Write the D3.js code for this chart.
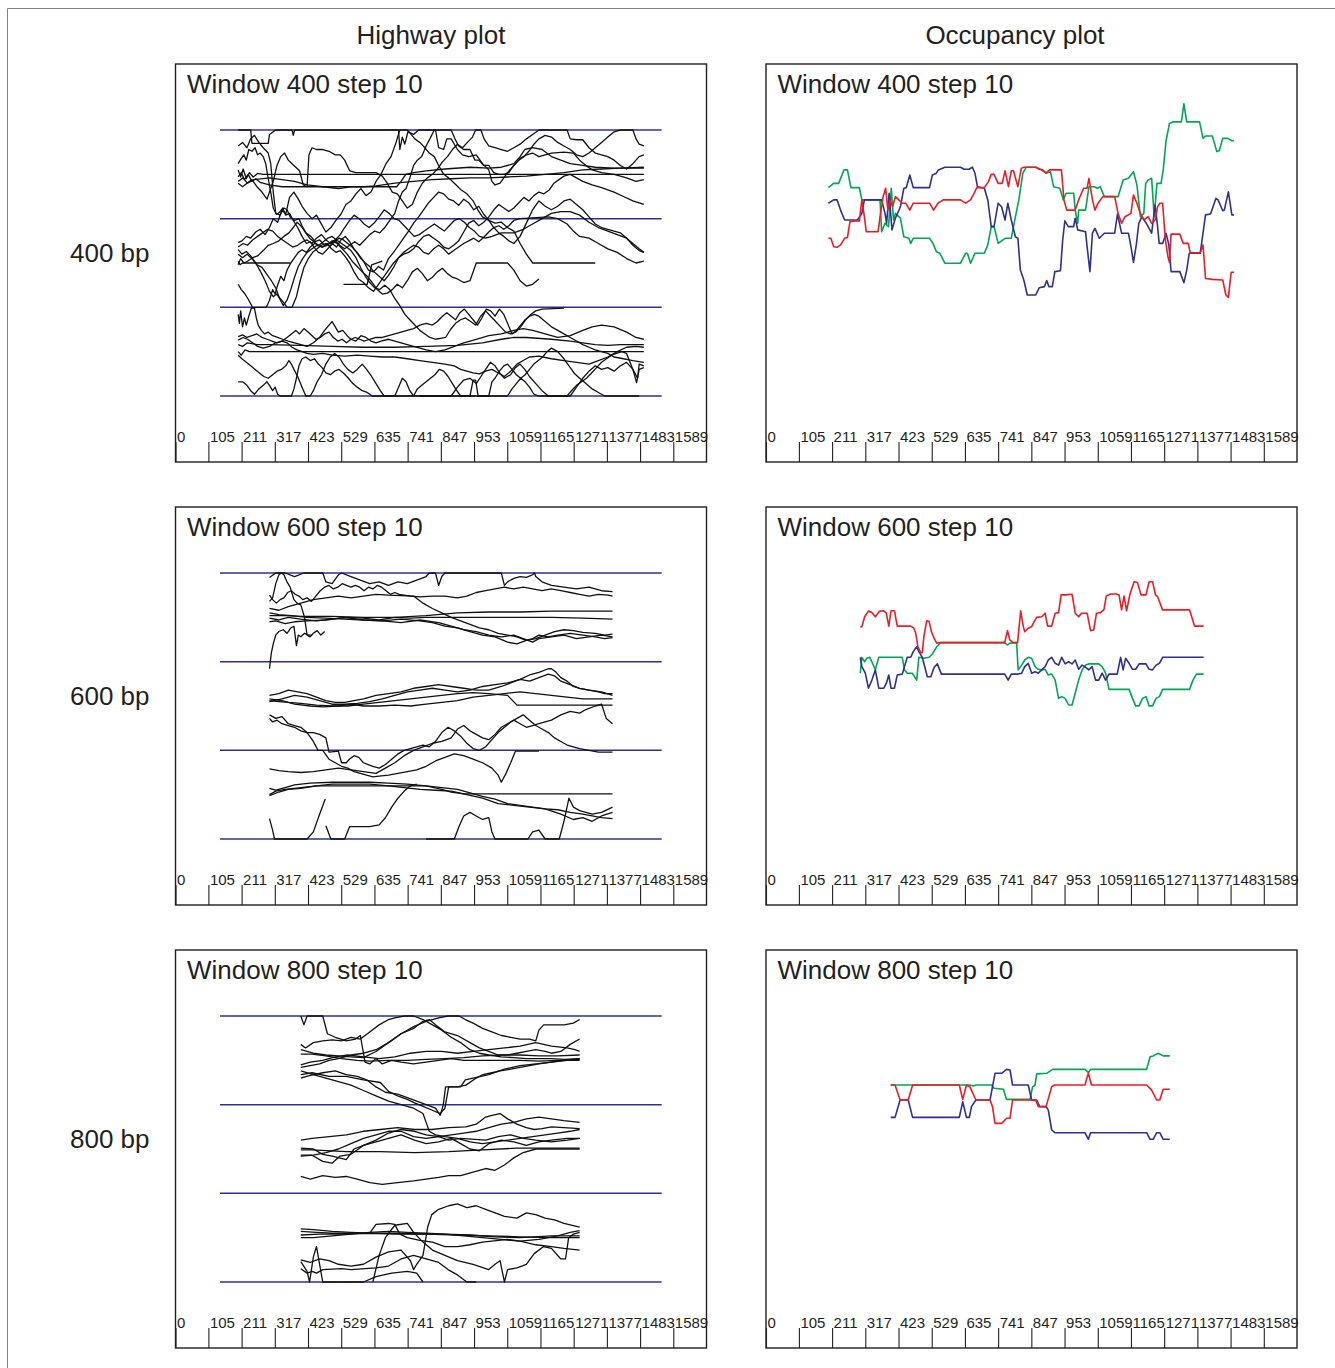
<!DOCTYPE html>
<html>
<head>
<meta charset="utf-8">
<script src="https://cdn.jsdelivr.net/npm/d3@7"></script>
<style>
  body { margin: 0; background: #fff; }
  text { font-family: "Liberation Sans", Arial, Helvetica, sans-serif; fill: #231f20; }
</style>
</head>
<body>
<svg id="chart" width="1335" height="1368"></svg>
<script>
// ---- data -------------------------------------------------------------
var columnTitles = ["Highway plot", "Occupancy plot"]
var rowLabels = ["400 bp", "600 bp", "800 bp"]
var panelTitles = ["Window 400 step 10", "Window 600 step 10", "Window 800 step 10"]
var seqLength = 1695
var tickLabels = [0, 105, 211, 317, 423, 529, 635, 741, 847, 953, 1059, 1165, 1271, 1377, 1483, 1589]
var laneLevels = [0, 1, 2, 3]
var laneSpan = [142, 1552]

// highway plot trajectories, [position bp, lane value]
var hw400 = [
  [[200,2.55],[208,2.47],[216,2.56],[226,2.45],[236,2.52],[248,2.47],[262,2.51],[280,2.5],[1495,2.5]],
  [[200,2.47],[210,2.52],[220,2.44],[232,2.5],[244,2.42],[256,2.45],[270,2.41],[300,2.38],[340,2.36],[706,2.36],[720,2.42],[735,2.5],[760,2.52],[800,2.54],[860,2.56],[940,2.58],[1000,2.57],[1040,2.58],[1080,2.62],[1100,2.7],[1115,2.78],[1140,2.8],[1170,2.78],[1200,2.7],[1230,2.66],[1260,2.62],[1300,2.6],[1340,2.58],[1400,2.57],[1495,2.57]],
  [[200,2.42],[215,2.46],[230,2.4],[250,2.44],[300,2.46],[340,2.44],[380,2.42],[420,2.38],[470,2.36],[520,2.34],[560,2.36],[600,2.36],[640,2.37],[700,2.4],[760,2.42],[820,2.44],[880,2.45],[940,2.46],[1000,2.46],[1060,2.47],[1120,2.48],[1180,2.5],[1240,2.52],[1300,2.55],[1360,2.56],[1420,2.57],[1495,2.58]],
  [[200,2.62],[210,2.68],[218,2.72],[226,2.66],[234,2.78],[244,2.76],[254,2.8],[262,2.72],[270,2.74],[280,2.7],[288,2.62],[296,2.45],[304,2.3],[312,2.12],[322,2.05],[332,2.07],[342,2.12],[352,2.04],[364,2.06],[376,1.98],[390,1.9],[404,1.8],[418,1.72],[430,1.74],[442,1.68],[456,1.62],[470,1.6],[486,1.66],[500,1.72],[514,1.68],[528,1.76],[542,1.8],[556,1.74],[570,1.66],[584,1.6],[600,1.52],[616,1.42],[632,1.4],[648,1.46],[664,1.42],[680,1.55],[696,1.62],[712,1.7],[728,1.78],[744,1.86],[760,1.95],[776,2.02],[792,2.1],[808,2.18],[824,2.24],[840,2.3],[856,2.28],[872,2.22],[888,2.2],[904,2.15],[920,2.22],[936,2.18],[952,2.1],[968,2.14],[984,2.05],[1000,1.98],[1016,1.9],[1032,1.84],[1048,1.8],[1064,1.75],[1080,1.72],[1100,1.8],[1120,1.95],[1140,2.1],[1160,2.2],[1180,2.14],[1200,2.1],[1220,2.14],[1240,2.2],[1260,2.22],[1280,2.16],[1300,2.1],[1320,2.02],[1340,1.94],[1360,1.9],[1380,1.88],[1400,1.86],[1420,1.84],[1440,1.78],[1460,1.7],[1480,1.64],[1495,1.62]],
  [[200,3],[240,3],[244,2.85],[296,2.85],[300,2.95],[320,3],[372,3],[376,2.94],[380,3],[712,3],[716,2.78],[724,2.92],[732,2.84],[742,2.98],[760,2.95],[776,3],[830,3],[840,2.8],[856,2.78],[866,2.9],[880,2.9],[900,2.78],[916,2.72],[936,2.7],[960,2.72],[980,2.62],[1000,2.55],[1010,2.42],[1020,2.38],[1036,2.4],[1060,2.52],[1080,2.6],[1100,2.68],[1120,2.72],[1140,2.74],[1160,2.7],[1180,2.72],[1200,2.74],[1240,2.75],[1270,2.74],[1290,2.66],[1310,2.6],[1330,2.55],[1360,2.52],[1400,2.5],[1440,2.46],[1470,2.42],[1495,2.44]],
  [[200,1.73],[212,1.75],[226,1.8],[240,1.78],[256,1.85],[270,1.88],[286,1.82],[300,1.9],[312,2.0],[326,1.96],[340,2.1],[352,2.05],[364,2.24],[378,2.3],[392,2.22],[404,2.14],[420,2.06],[436,2.0],[450,2.04],[464,1.95],[480,1.85],[496,1.9],[512,1.98],[528,2.05],[544,2.16],[560,2.2],[576,2.28],[592,2.34],[608,2.26],[624,2.3],[640,2.42],[656,2.5],[672,2.62],[688,2.7],[704,2.86],[716,3],[740,3],[752,2.95],[764,2.9],[780,2.86],[796,2.8],[810,2.74],[826,2.7],[840,2.6],[856,2.5],[872,2.46],[890,2.4],[910,2.33],[930,2.28],[950,2.2],[965,2.1],[980,2.02],[1000,1.98],[1020,1.95],[1040,1.96],[1060,1.9],[1080,1.86],[1100,1.72],[1120,1.6],[1140,1.5],[1340,1.5]],
  [[200,1.52],[206,1.48],[214,1.5],[366,1.5]],
  [[200,1.65],[212,1.6],[226,1.63],[240,1.58],[256,1.5],[272,1.4],[286,1.3],[300,1.18],[312,1.12],[322,1.15],[334,1.1],[346,1.05],[356,1.0],[372,1.0],[386,1.12],[398,1.3],[410,1.45],[424,1.55],[438,1.62],[452,1.66],[466,1.7],[480,1.72],[494,1.69],[508,1.74],[522,1.78],[536,1.76],[550,1.72],[564,1.68],[578,1.62],[592,1.55],[606,1.5],[620,1.46],[634,1.4],[650,1.35],[666,1.3],[680,1.36],[696,1.45],[712,1.56],[728,1.62],[744,1.66],[760,1.7],[776,1.68],[792,1.62],[808,1.6],[824,1.66],[840,1.7],[856,1.66],[872,1.6],[888,1.64],[904,1.68],[920,1.72],[936,1.75],[952,1.78],[968,1.74],[984,1.79],[1000,1.85],[1016,1.9],[1032,1.92],[1048,1.88],[1064,1.92],[1080,1.98],[1100,2.0],[1190,2.02],[1220,2.0],[1250,1.94],[1270,1.86],[1290,1.8],[1320,1.78],[1350,1.72],[1380,1.66],[1410,1.62],[1440,1.55],[1470,1.5],[1495,1.52]],
  [[200,1.26],[210,1.2],[222,1.15],[234,1.08],[246,1.0],[290,1.0],[300,1.08],[310,1.2],[318,1.15],[326,1.25],[336,1.35],[346,1.3],[356,1.42],[368,1.5],[380,1.56],[392,1.62],[404,1.65],[418,1.62],[430,1.68],[444,1.72],[458,1.7],[472,1.74],[486,1.78],[500,1.8],[514,1.76],[530,1.72],[546,1.68],[560,1.64],[576,1.56],[592,1.44],[606,1.35],[620,1.28],[636,1.22],[652,1.2],[668,1.25],[684,1.2],[700,1.1],[716,1.02],[732,0.92],[748,0.86],[764,0.8],[780,0.74],[796,0.7],[812,0.66],[830,0.64],[846,0.65],[862,0.66],[878,0.75],[894,0.82],[910,0.86],[926,0.88],[942,0.84],[958,0.8],[974,0.9],[990,0.96],[1006,0.9],[1022,0.84],[1038,0.78],[1054,0.72],[1070,0.7],[1086,0.72],[1102,0.78],[1118,0.86],[1134,0.92],[1150,0.96],[1170,0.98],[1240,0.99]],
  [[200,1.48],[208,1.55],[218,1.5],[230,1.52],[246,1.56],[262,1.58],[280,1.64],[296,1.7],[312,1.72],[330,1.75],[346,1.8],[362,1.84],[376,1.9],[388,1.96],[400,1.92],[414,1.85],[428,1.78],[442,1.74],[456,1.7],[470,1.68],[484,1.72],[498,1.66],[512,1.62],[526,1.64],[540,1.58],[556,1.5],[570,1.4],[584,1.32],[600,1.28],[616,1.22],[632,1.18],[648,1.26],[664,1.34],[680,1.42],[696,1.5],[712,1.56],[728,1.6],[744,1.62],[760,1.66],[776,1.74],[792,1.8],[808,1.82],[824,1.78],[840,1.74],[856,1.68],[872,1.66],[888,1.7],[904,1.75],[920,1.85],[936,1.95],[952,1.98],[968,1.92],[984,1.96],[1000,2.02],[1016,2.1],[1032,2.16],[1048,2.12],[1064,2.08],[1080,2.12],[1096,2.18],[1112,2.24],[1128,2.2],[1144,2.26],[1160,2.3],[1176,2.28],[1192,2.32],[1208,2.4],[1224,2.44],[1240,2.48],[1260,2.5],[1280,2.46],[1300,2.42],[1330,2.38],[1360,2.35],[1400,2.3],[1430,2.25],[1460,2.2],[1495,2.16]],
  [[200,1.68],[216,1.72],[230,1.7],[246,1.76],[262,1.8],[278,1.84],[294,1.88],[310,1.86],[326,1.8],[342,1.76],[358,1.72],[374,1.68],[390,1.7],[406,1.74],[420,1.76],[436,1.72],[450,1.78],[466,1.82],[480,1.76],[496,1.72],[510,1.76],[526,1.82],[540,1.9],[556,1.98],[570,2.04],[586,2.0],[602,1.94],[618,1.9],[634,1.95],[650,2.02],[666,2.1],[682,2.06],[698,2.0],[714,1.98],[730,1.92],[746,1.86],[762,1.8],[778,1.82],[794,1.86],[810,1.9],[826,1.94],[842,1.9],[858,1.86],[874,1.92],[890,1.98],[906,2.0],[922,1.96],[938,1.9],[954,1.86],[970,1.8],[990,1.78],[1010,1.8],[1040,1.84],[1080,1.84],[1110,1.88],[1140,1.94],[1170,2.0],[1200,2.06],[1230,2.08],[1260,2.08],[1290,2.04],[1320,1.96],[1350,1.9],[1380,1.86],[1410,1.82],[1440,1.78],[1460,1.72],[1480,1.66],[1495,1.62]],
  [[200,1.6],[214,1.56],[228,1.6],[244,1.55],[260,1.48],[276,1.45],[290,1.38],[306,1.3],[320,1.22],[332,1.1],[344,1.02],[356,1.08],[368,1.2],[380,1.34],[392,1.46],[406,1.55],[420,1.62],[436,1.66],[452,1.7],[468,1.68],[484,1.7],[500,1.75],[516,1.72],[532,1.66],[548,1.6],[564,1.52],[580,1.46],[596,1.4],[612,1.35],[628,1.28],[644,1.2],[660,1.15],[676,1.16],[692,1.2],[708,1.26],[724,1.22],[740,1.3],[756,1.4],[772,1.44],[788,1.38],[804,1.3],[820,1.34],[836,1.4],[852,1.44],[868,1.38],[884,1.34],[900,1.32],[920,1.28],[940,1.3],[960,1.5],[1060,1.5],[1080,1.42],[1100,1.3],[1120,1.24],[1140,1.26],[1160,1.32]],
  [[536,1.26],[612,1.26],[626,1.48],[660,1.52]],
  [[200,0.5],[210,0.46],[222,0.52],[236,0.5],[1495,0.5]],
  [[200,0.58],[214,0.56],[230,0.6],[260,0.58],[300,0.58],[400,0.57],[500,0.56],[600,0.55],[700,0.55],[800,0.56],[900,0.57],[980,0.6],[1040,0.64],[1080,0.66],[1120,0.66],[1200,0.64],[1260,0.62],[1300,0.6],[1340,0.58],[1380,0.57],[1420,0.58],[1495,0.58]],
  [[200,0.63],[216,0.66],[230,0.64],[246,0.6],[262,0.56],[280,0.54],[300,0.56],[320,0.6],[340,0.62],[356,0.6],[372,0.55],[388,0.52],[404,0.5],[420,0.48],[440,0.47],[470,0.48],[500,0.46],[540,0.45],[580,0.46],[620,0.45],[660,0.44],[700,0.44],[740,0.42],[780,0.4],[820,0.38],[860,0.36],[890,0.34],[910,0.3],[930,0.28],[950,0.26],[970,0.25],[990,0.28],[1010,0.3],[1030,0.26],[1050,0.22],[1070,0.28],[1090,0.36],[1110,0.4],[1130,0.44],[1160,0.45],[1200,0.42],[1240,0.4],[1280,0.38],[1320,0.36],[1350,0.4],[1380,0.44],[1410,0.5],[1440,0.55],[1470,0.56],[1495,0.55]],
  [[200,0.67],[214,0.69],[228,0.66],[244,0.68],[260,0.7],[276,0.66],[292,0.64],[308,0.62],[324,0.6],[340,0.62],[356,0.66],[370,0.7],[384,0.74],[396,0.7],[410,0.76],[424,0.72],[436,0.68],[448,0.64],[462,0.66],[476,0.7],[490,0.72],[504,0.66],[518,0.62],[532,0.64],[546,0.6],[560,0.64],[574,0.66],[588,0.64],[602,0.62],[620,0.64],[640,0.66],[660,0.66],[680,0.68],[700,0.7],[720,0.72],[740,0.74],[760,0.76],[780,0.8],[800,0.82],[820,0.8],[836,0.84],[852,0.9],[866,0.94],[880,0.9],[894,0.86],[908,0.94],[922,0.98],[936,0.92],[950,0.86],[964,0.8],[978,0.88],[992,0.98],[1006,0.96],[1020,0.9],[1034,0.98],[1048,0.92],[1060,0.82],[1074,0.7],[1088,0.74],[1102,0.8],[1116,0.86],[1130,0.9],[1146,0.92],[1160,0.9],[1180,0.84],[1200,0.78],[1220,0.74],[1240,0.7],[1260,0.66],[1280,0.62],[1300,0.58],[1320,0.55],[1340,0.52],[1360,0.5],[1380,0.48],[1400,0.44],[1430,0.42],[1460,0.4],[1495,0.38]],
  [[200,0.46],[212,0.42],[226,0.38],[240,0.34],[254,0.3],[268,0.26],[282,0.22],[296,0.2],[310,0.24],[324,0.28],[338,0.3],[352,0.34],[362,0.4],[370,0.36],[378,0.3],[390,0.22],[404,0.1],[416,0],[430,0],[440,0.06],[452,0.16],[466,0.24],[480,0.36],[494,0.44],[508,0.48],[522,0.44],[536,0.36],[550,0.3],[566,0.26],[580,0.3],[596,0.36],[610,0.3],[626,0.22],[640,0.14],[654,0.06],[666,0],[760,0],[772,0.08],[786,0.12],[800,0.16],[814,0.2],[828,0.24],[842,0.3],[856,0.28],[870,0.22],[884,0.14],[898,0.06],[910,0],[1060,0],[1074,0.08],[1088,0.14],[1102,0.2],[1116,0.16],[1130,0.1],[1144,0.02],[1160,0],[1250,0],[1264,0.06],[1280,0.12],[1296,0.16],[1312,0.2],[1328,0.26],[1344,0.32],[1360,0.38],[1376,0.42],[1392,0.46],[1408,0.48],[1424,0.5],[1440,0.48],[1460,0.3],[1472,0.15],[1480,0.3],[1495,0.32]],
  [[200,0.16],[214,0.16],[228,0.12],[240,0.06],[252,0.02],[266,0.08],[280,0.12],[292,0.16],[300,0.12],[310,0.06],[318,0.1],[326,0.02],[334,0],[370,0],[378,0.08],[386,0.2],[394,0.34],[404,0.42],[416,0.44],[430,0.4],[444,0.42],[456,0.36],[468,0.32],[480,0.26],[494,0.24],[508,0.28],[522,0.3],[536,0.26],[552,0.2],[566,0.14],[580,0.1],[596,0.06],[612,0.04],[628,0],[700,0],[712,0.1],[724,0.2],[736,0.16],[748,0.06],[760,0],[940,0],[950,0.18],[958,0.18],[966,0],[1000,0],[1010,0.16],[1020,0.2],[1034,0.28],[1048,0.34],[1060,0.36],[1074,0.3],[1088,0.24],[1102,0.2],[1116,0.24],[1130,0.3],[1144,0.36],[1158,0.4],[1172,0.44],[1186,0.5],[1200,0.54],[1220,0.5],[1240,0.42],[1256,0.34],[1272,0.26],[1290,0.2],[1310,0.14],[1330,0.08],[1350,0.04],[1370,0],[1480,0]],
  [[200,0.92],[204,0.82],[208,0.96],[214,0.78],[220,0.88],[226,0.8],[234,0.9],[242,0.99],[252,0.99],[258,0.88],[264,0.8],[274,0.74],[284,0.7],[296,0.72],[310,0.68],[326,0.66],[342,0.64],[360,0.62],[380,0.6],[400,0.58],[420,0.56],[440,0.6],[460,0.66],[476,0.74],[490,0.8],[500,0.84],[510,0.78],[520,0.72],[534,0.74],[548,0.68],[560,0.64],[576,0.62],[592,0.68],[608,0.66],[624,0.62],[640,0.6],[656,0.62],[680,0.64],[700,0.62],[720,0.6],[740,0.58],[760,0.56],[780,0.54],[800,0.52],[830,0.5],[860,0.52],[890,0.56],[920,0.6],[960,0.64],[1000,0.68],[1040,0.7],[1080,0.74],[1110,0.76],[1140,0.74],[1180,0.7],[1220,0.66],[1260,0.68],[1300,0.74],[1330,0.78],[1360,0.8],[1400,0.78],[1440,0.72],[1470,0.66],[1495,0.64]],
  [[780,0],[880,0],[900,0.1],[920,0.18],[940,0.2],[960,0.14],[975,0.22],[990,0.3],[1005,0.38],[1020,0.34],[1035,0.26],[1050,0.2],[1070,0.24],[1085,0.32],[1100,0.36],[1115,0.3],[1130,0.22],[1150,0.14],[1170,0.06],[1190,0],[1260,0],[1280,0.1],[1300,0.2],[1320,0.28],[1340,0.34],[1360,0.3],[1380,0.32],[1400,0.28],[1420,0.34],[1440,0.38],[1460,0.3],[1475,0.2],[1480,0.36],[1495,0.34]],
  [[200,2.4],[214,2.36],[228,2.4],[244,2.44],[260,2.36],[276,2.3],[292,2.22],[300,2.3],[312,2.42],[324,2.6],[336,2.7],[348,2.74],[360,2.66],[372,2.62],[384,2.58],[396,2.54],[408,2.38],[420,2.36],[426,2.72],[436,2.8],[450,2.78],[470,2.78],[490,2.76],[510,2.72],[526,2.72],[540,2.66],[556,2.54],[576,2.52],[640,2.52],[660,2.48],[676,2.4],[692,2.3],[708,2.28],[724,2.2],[740,2.12],[756,2.16],[772,2.3],[788,2.4],[804,2.46],[820,2.5],[836,2.56],[852,2.64],[868,2.7],[884,2.78],[900,2.84],[916,2.8],[932,2.86],[948,2.92],[958,3],[975,3],[985,2.9],[1000,2.82],[1020,2.8],[1040,2.78],[1060,2.76],[1080,2.8],[1100,2.84],[1120,2.9],[1140,2.95],[1160,3],[1250,3],[1260,2.9],[1280,2.89],[1300,2.89],[1320,2.8],[1340,2.74],[1360,2.72],[1380,2.7],[1400,2.66],[1420,2.6],[1440,2.56],[1460,2.62],[1480,2.7],[1495,2.72]],
  [[200,2.82],[214,2.86],[228,2.8],[240,2.9],[252,2.94],[266,2.86],[280,2.8],[296,2.74],[304,2.62],[312,2.3],[320,2.06],[334,2.04],[346,2.12],[356,2.1],[366,2.02],[380,1.98],[394,2.0],[404,1.92],[416,1.84],[432,1.8],[446,1.74],[460,1.76],[476,1.7],[492,1.72],[508,1.76],[524,1.7],[540,1.66],[556,1.7],[572,1.74],[588,1.7],[604,1.76],[620,1.82],[636,1.86],[652,1.84],[668,1.9],[684,1.98],[700,2.06],[712,2.2],[724,2.3],[736,2.34],[748,2.46],[760,2.6],[772,2.66],[786,2.7],[800,2.82],[812,2.9],[826,3],[880,3],[892,2.9],[904,2.82],[920,2.78],[940,2.78],[956,2.66],[968,2.66],[984,2.6],[1000,2.6],[1016,2.52],[1032,2.5],[1048,2.5],[1064,2.52],[1080,2.6],[1096,2.66],[1112,2.7],[1128,2.76],[1144,2.84],[1160,2.9],[1180,2.94],[1200,2.92],[1220,2.86],[1240,2.82],[1260,2.78],[1280,2.72],[1300,2.7],[1320,2.74],[1340,2.8],[1360,2.86],[1380,2.92],[1400,2.98],[1420,3],[1460,3],[1470,2.9],[1480,2.84],[1495,2.82]]
]

var hw600 = [
  [[300,2.52],[350,2.52],[400,2.51],[500,2.51],[600,2.5],[700,2.5],[800,2.52],[900,2.55],[1000,2.56],[1100,2.56],[1200,2.57],[1300,2.57],[1395,2.57]],
  [[300,2.49],[330,2.47],[360,2.5],[400,2.48],[450,2.46],[500,2.48],[550,2.5],[600,2.49],[650,2.47],[700,2.5],[750,2.49],[800,2.5],[900,2.5],[1000,2.5],[1100,2.5],[1200,2.5],[1300,2.49],[1395,2.48]],
  [[300,2.45],[320,2.46],[350,2.43],[380,2.45],[420,2.46],[480,2.47],[540,2.5],[600,2.47],[660,2.46],[720,2.44],[780,2.47],[840,2.44],[880,2.4],[920,2.36],[960,2.34],[1000,2.3],[1040,2.28],[1080,2.3],[1110,2.26],[1140,2.22],[1160,2.26],[1200,2.28],[1240,2.3],[1280,2.26],[1320,2.28],[1360,2.3],[1395,2.28]],
  [[300,2.55],[330,2.53],[370,2.52],[420,2.5],[480,2.49],[540,2.48],[600,2.47],[660,2.46],[720,2.48],[780,2.46],[820,2.44],[860,2.4],[900,2.38],[940,2.34],[980,2.3],[1020,2.28],[1060,2.22],[1090,2.2],[1120,2.24],[1150,2.26],[1180,2.3],[1210,2.34],[1240,2.36],[1270,2.35],[1300,2.33],[1340,2.32],[1370,2.3],[1395,2.31]],
  [[300,2.75],[310,2.7],[322,2.66],[334,2.7],[346,2.72],[358,2.78],[370,2.8],[382,2.76],[394,2.74],[406,2.7],[420,2.72],[434,2.68],[448,2.74],[462,2.8],[476,2.84],[490,2.86],[504,2.82],[518,2.84],[532,2.88],[546,2.86],[560,2.84],[574,2.86],[588,2.84],[602,2.8],[616,2.84],[630,2.82],[644,2.86],[658,2.84],[672,2.8],[686,2.76],[700,2.78],[714,2.76],[750,2.74],[780,2.73],[820,2.74],[860,2.74],[900,2.72],[930,2.74],[960,2.78],[990,2.8],[1020,2.82],[1050,2.84],[1080,2.82],[1110,2.84],[1140,2.82],[1170,2.8],[1200,2.82],[1230,2.8],[1260,2.78],[1290,2.76],[1320,2.74],[1350,2.76],[1380,2.75],[1395,2.74]],
  [[300,2.68],[310,2.72],[320,2.88],[330,2.98],[338,3],[346,2.98],[356,2.9],[366,2.84],[378,2.7],[388,2.66],[400,2.64],[412,2.5],[420,2.3],[430,2.28],[440,2.32],[452,2.35],[464,2.3],[476,2.34]],
  [[300,1.92],[306,2.1],[312,2.2],[320,2.3],[330,2.34],[344,2.36],[356,2.32],[368,2.38],[378,2.4],[386,2.18],[392,2.3],[400,2.28],[412,2.32],[424,2.3],[436,2.3]],
  [[300,2.6],[330,2.58],[360,2.62],[400,2.66],[440,2.7],[480,2.72],[520,2.74],[560,2.72],[600,2.74],[640,2.76],[680,2.75],[760,2.74],[790,2.66],[820,2.6],[850,2.55],[880,2.5],[910,2.46],[940,2.42],[970,2.38],[1000,2.36],[1030,2.32],[1060,2.3],[1090,2.28],[1120,2.24],[1140,2.26],[1160,2.3],[1190,2.28],[1220,2.3],[1260,2.32],[1300,2.3],[1340,2.28],[1370,2.26],[1395,2.27]],
  [[300,2.95],[320,3],[350,3],[380,2.96],[410,3],[470,3],[480,2.9],[500,2.88],[520,2.98],[530,3],[560,2.96],[590,2.92],[620,2.88],[650,2.9],[680,2.86],[710,2.9],[740,2.88],[770,2.92],[800,2.96],[810,3],[830,3],[840,2.86],[850,2.96],[860,3],[1040,3],[1050,2.86],[1060,2.9],[1080,2.94],[1100,2.96],[1120,2.95],[1140,2.98],[1146,3],[1150,2.96],[1170,2.9],[1200,2.86],[1240,2.84],[1280,2.82],[1320,2.84],[1360,2.8],[1395,2.79]],
  [[300,1.56],[330,1.55],[360,1.54],[400,1.53],[450,1.51],[500,1.5],[550,1.5],[600,1.52],[650,1.54],[700,1.56],[750,1.58],[800,1.6],[850,1.62],[900,1.64],[950,1.65],[1000,1.64],[1060,1.62],[1090,1.51],[1395,1.51]],
  [[300,1.58],[340,1.56],[380,1.52],[430,1.5],[470,1.49],[520,1.5],[560,1.52],[600,1.5],[650,1.5],[700,1.51],[750,1.5],[800,1.52],[850,1.54],[900,1.56],[950,1.6],[1000,1.62],[1050,1.64],[1100,1.66],[1150,1.64],[1200,1.62],[1250,1.6],[1300,1.58],[1395,1.58]],
  [[300,1.62],[330,1.64],[360,1.68],[390,1.66],[420,1.64],[450,1.6],[480,1.56],[510,1.54],[540,1.54],[570,1.56],[600,1.58],[640,1.62],[680,1.64],[720,1.66],[760,1.7],[800,1.72],[840,1.74],[880,1.72],[920,1.7],[960,1.68],[1000,1.68],[1040,1.72],[1070,1.76],[1100,1.8],[1130,1.85],[1160,1.88],[1190,1.92],[1200,1.92],[1215,1.88],[1230,1.82],[1250,1.78],[1270,1.72],[1290,1.7],[1320,1.68],[1350,1.66],[1370,1.64],[1395,1.64]],
  [[300,1.55],[340,1.58],[380,1.62],[420,1.6],[460,1.56],[500,1.52],[540,1.52],[580,1.53],[620,1.55],[660,1.58],[700,1.62],[740,1.66],[780,1.68],[820,1.7],[860,1.68],[900,1.66],[940,1.68],[980,1.72],[1020,1.74],[1060,1.76],[1100,1.8],[1130,1.78],[1160,1.82],[1190,1.86],[1210,1.84],[1230,1.78],[1260,1.74],[1290,1.7],[1320,1.68],[1360,1.66],[1395,1.62]],
  [[300,1.36],[310,1.32],[324,1.34],[340,1.3],[360,1.28],[380,1.26],[400,1.22],[420,1.2],[440,1.2],[460,1.18],[480,1.14],[490,0.98],[520,0.99],[530,0.86],[545,0.86],[555,0.9],[570,0.94],[585,0.92],[600,0.86],[615,0.84],[630,0.82],[650,0.8],[670,0.84],[690,0.9],[710,0.96],[730,1.0],[750,1.02],[770,1.04],[790,1.06],[810,1.04],[830,1.1],[850,1.2],[870,1.26],[890,1.22],[910,1.16],[930,1.08],[950,1.02],[970,1.0],[990,1.04],[1010,1.12],[1030,1.2],[1050,1.26],[1070,1.32],[1090,1.36],[1110,1.4],[1130,1.34],[1150,1.28],[1170,1.24],[1190,1.2],[1210,1.14],[1230,1.1],[1250,1.06],[1270,1.04],[1290,1.02],[1320,1.0],[1350,0.98],[1395,0.98]],
  [[300,0.79],[330,0.77],[360,0.76],[400,0.75],[440,0.76],[480,0.78],[520,0.8],[560,0.78],[600,0.76],[640,0.74],[670,0.8],[700,0.86],[730,0.94],[760,1.0],[790,1.04],[820,1.08],[850,1.1],[880,1.14],[900,1.24],[920,1.28],[940,1.22],[960,1.18],[980,1.14],[1000,1.12],[1020,1.18],[1040,1.26],[1060,1.3],[1080,1.34],[1100,1.3],[1120,1.26],[1140,1.28],[1160,1.3],[1180,1.32],[1200,1.34],[1230,1.4],[1260,1.44],[1290,1.42],[1310,1.46],[1340,1.5],[1360,1.52],[1375,1.36],[1395,1.3]],
  [[300,1.4],[320,1.36],[340,1.38],[360,1.3],[380,1.28],[400,1.26],[420,1.2],[440,1.1],[455,1.0],[470,1.0],[490,0.9],[510,0.86],[530,0.82],[550,0.8],[570,0.76],[590,0.74],[610,0.72],[630,0.7],[650,0.71],[680,0.72],[710,0.74],[740,0.76],[770,0.78],[800,0.82],[830,0.88],[860,0.92],[890,0.96],[920,0.94],[950,0.9],[980,0.86],[1010,0.8],[1030,0.72],[1040,0.64],[1055,0.74],[1070,0.86],[1085,0.99],[1160,0.99]],
  [[300,0.5],[320,0.54],[350,0.56],[400,0.58],[450,0.6],[800,0.6],[850,0.56],[880,0.53],[920,0.51],[1395,0.51]],
  [[300,0.57],[320,0.55],[350,0.58],[380,0.61],[430,0.63],[500,0.64],[620,0.64],[680,0.63],[740,0.62],[800,0.6],[850,0.58],[900,0.56],[940,0.52],[980,0.48],[1020,0.45],[1060,0.4],[1100,0.38],[1140,0.36],[1180,0.34],[1220,0.33],[1260,0.3],[1300,0.28],[1330,0.26],[1360,0.24],[1395,0.23]],
  [[300,0.49],[330,0.53],[360,0.56],[400,0.57],[450,0.6],[500,0.62],[620,0.62],[680,0.6],[730,0.58],[780,0.56],[830,0.55],[880,0.54],[930,0.5],[980,0.46],[1030,0.4],[1080,0.38],[1130,0.36],[1180,0.34],[1230,0.28],[1270,0.22],[1300,0.24],[1330,0.2],[1360,0.26],[1395,0.3]],
  [[300,0.23],[310,0.1],[316,0],[420,0],[440,0.08],[460,0.28],[478,0.45]],
  [[480,0.15],[496,0],[540,0],[556,0.14],[620,0.14],[650,0.16],[670,0.24],[690,0.36],[710,0.46],[730,0.54],[750,0.6],[770,0.62]],
  [[800,0],[890,0],[905,0.14],[920,0.26],[940,0.3],[960,0.26],[980,0.22],[1000,0.24],[1010,0.08],[1020,0],[1125,0],[1140,0.08],[1160,0.1],[1180,0],[1225,0],[1240,0.2],[1256,0.46],[1270,0.36],[1290,0.32],[1310,0.3],[1330,0.28],[1360,0.3],[1395,0.36]]
]

var hw800 = [
  [[400,2.34],[436,2.36],[490,2.32],[545,2.32],[600,2.28],[654,2.25],[680,2.15],[709,2.1],[740,2.06],[763,2.02],[790,1.98],[818,1.94],[845,1.9],[860,1.96],[872,2.2],[900,2.2],[927,2.22],[960,2.3],[981,2.34],[1010,2.36],[1036,2.38],[1070,2.4],[1100,2.42],[1130,2.44],[1160,2.46],[1200,2.48],[1240,2.5],[1290,2.52]],
  [[400,2.3],[430,2.33],[470,2.36],[510,2.38],[545,2.34],[580,2.32],[610,2.28],[640,2.2],[670,2.14],[709,2.12],[740,2.08],[770,2.04],[800,2.0],[830,1.96],[845,1.88],[855,2.0],[862,2.2],[910,2.2],[925,2.28],[950,2.3],[1000,2.34],[1050,2.4],[1100,2.44],[1150,2.46],[1200,2.48],[1250,2.5],[1290,2.51]],
  [[400,2.57],[436,2.57],[480,2.55],[530,2.52],[580,2.5],[620,2.49],[680,2.5],[740,2.5],[800,2.51],[860,2.52],[920,2.53],[980,2.55],[1040,2.56],[1100,2.56],[1160,2.55],[1220,2.55],[1290,2.56]],
  [[400,2.68],[415,2.64],[440,2.7],[470,2.72],[500,2.73],[530,2.72],[560,2.76],[590,2.74],[620,2.82],[650,2.9],[680,2.96],[700,2.98],[730,3],[760,3],[790,2.96],[820,2.9],[850,2.84],[880,2.76],[910,2.7],[940,2.62],[970,2.58],[1000,2.56],[1040,2.54],[1080,2.53],[1120,2.52],[1200,2.52],[1240,2.51],[1290,2.52]],
  [[400,3],[410,2.9],[420,3],[470,3],[485,2.8],[510,2.76],[545,2.72],[575,2.74],[590,2.78],[605,2.48],[620,2.46],[640,2.52],[660,2.46],[690,2.5],[720,2.48],[760,2.46],[800,2.48],[840,2.5],[880,2.52],[920,2.5],[1100,2.5],[1160,2.49],[1220,2.5],[1290,2.5]],
  [[400,2.62],[440,2.58],[480,2.56],[520,2.55],[560,2.54],[600,2.53],[640,2.6],[680,2.7],[720,2.8],[760,2.86],[790,2.94],[810,2.96],[830,2.9],[860,2.82],[900,2.78],[940,2.7],[970,2.64],[1000,2.6],[1030,2.56],[1060,2.56],[1090,2.58],[1120,2.6],[1150,2.62],[1180,2.6],[1200,2.58],[1230,2.6],[1260,2.68],[1290,2.74]],
  [[400,2.42],[430,2.44],[460,2.46],[490,2.5],[520,2.52],[560,2.56],[600,2.58],[640,2.62],[680,2.7],[720,2.8],[760,2.88],[800,2.94],[840,2.98],[870,3],[905,3],[925,2.96],[950,2.92],[980,2.86],[1010,2.82],[1040,2.78],[1070,2.76],[1100,2.74],[1130,2.74],[1150,2.72],[1160,2.84],[1175,2.9],[1240,2.9],[1270,2.92],[1290,2.96]],
  [[400,2.45],[430,2.48],[470,2.5],[510,2.54],[550,2.56],[600,2.54],[650,2.52],[700,2.54],[750,2.58],[800,2.6],[850,2.6],[900,2.58],[950,2.6],[1000,2.62],[1050,2.64],[1100,2.66],[1150,2.7],[1200,2.66],[1250,2.64],[1275,2.62],[1290,2.6]],
  [[400,2.38],[440,2.34],[480,2.3],[520,2.26],[560,2.22],[600,2.16],[640,2.1],[680,2.04],[720,2.0],[760,1.96],[790,1.9],[800,1.8],[810,1.7],[830,1.66],[860,1.64],[900,1.62],[940,1.58],[980,1.56],[1020,1.58],[1060,1.6],[1100,1.62],[1140,1.64],[1180,1.66],[1220,1.68],[1260,1.7],[1290,1.72]],
  [[400,1.6],[436,1.62],[491,1.64],[545,1.66],[600,1.7],[654,1.72],[709,1.74],[763,1.72],[818,1.72],[872,1.74],[927,1.75],[960,1.78],[990,1.86],[1010,1.88],[1036,1.9],[1060,1.84],[1090,1.78],[1120,1.74],[1145,1.72],[1170,1.73],[1200,1.75],[1240,1.74],[1290,1.73]],
  [[400,1.49],[436,1.49],[545,1.47],[654,1.47],[763,1.46],[872,1.47],[981,1.49],[1090,1.51],[1290,1.51]],
  [[400,1.51],[440,1.5],[470,1.44],[500,1.42],[545,1.38],[570,1.5],[600,1.54],[640,1.58],[680,1.62],[720,1.66],[763,1.6],[800,1.56],[840,1.58],[880,1.62],[910,1.56],[940,1.5],[970,1.48],[1000,1.56],[1040,1.6],[1080,1.58],[1120,1.54],[1160,1.58],[1200,1.6],[1250,1.62],[1290,1.62]],
  [[400,1.43],[436,1.43],[470,1.36],[500,1.34],[525,1.42],[560,1.44],[600,1.54],[640,1.6],[680,1.68],[720,1.72],[763,1.7],[800,1.66],[840,1.64],[872,1.6],[910,1.62],[990,1.6],[1030,1.64],[1070,1.66],[1110,1.62],[1150,1.6],[1200,1.58],[1250,1.6],[1290,1.62]],
  [[400,1.19],[430,1.16],[470,1.2],[510,1.18],[545,1.19],[580,1.16],[620,1.12],[660,1.1],[709,1.12],[760,1.14],[800,1.16],[840,1.18],[872,1.2],[910,1.2],[950,1.24],[990,1.28],[1020,1.26],[1050,1.32],[1080,1.4],[1110,1.46],[1150,1.5],[1290,1.5]],
  [[400,1.42],[440,1.43],[480,1.46],[520,1.5],[560,1.56],[600,1.62],[640,1.66],[680,1.7],[720,1.7],[760,1.64],[800,1.62],[840,1.64],[880,1.66],[920,1.68],[960,1.7],[1000,1.74],[1040,1.78],[1080,1.8],[1120,1.84],[1160,1.86],[1200,1.84],[1240,1.82],[1290,1.8]],
  [[400,0.57],[450,0.56],[500,0.55],[700,0.55],[800,0.54],[900,0.53],[1000,0.52],[1100,0.51],[1200,0.5],[1290,0.5]],
  [[400,0.53],[460,0.54],[540,0.54],[620,0.55],[700,0.54],[860,0.54],[940,0.53],[1020,0.51],[1100,0.5],[1200,0.52],[1290,0.52]],
  [[400,0.6],[440,0.59],[500,0.57],[560,0.56],[620,0.55],[640,0.65],[680,0.66],[700,0.65],[716,0.54],[740,0.5],[780,0.47],[820,0.45],[860,0.4],[900,0.4],[940,0.42],[980,0.45],[1060,0.48],[1100,0.46],[1150,0.42],[1200,0.4],[1240,0.38],[1290,0.36]],
  [[400,0.5],[440,0.5],[500,0.52],[560,0.54],[620,0.56],[680,0.57],[740,0.56],[800,0.55],[860,0.54],[920,0.52],[980,0.5],[1040,0.48],[1100,0.46],[1160,0.48],[1220,0.52],[1260,0.56],[1290,0.58]],
  [[400,0.25],[430,0.22],[460,0.26],[490,0.24],[520,0.2],[560,0.18],[600,0.2],[640,0.28],[680,0.34],[720,0.36],[750,0.24],[760,0.14],[770,0.2],[790,0.3],[805,0.62],[818,0.76],[840,0.82],[872,0.86],[900,0.88],[930,0.84],[960,0.86],[990,0.82],[1020,0.78],[1050,0.74],[1090,0.72],[1120,0.78],[1150,0.76],[1180,0.72],[1210,0.7],[1240,0.66],[1290,0.62]],
  [[400,0.15],[420,0.1],[436,0.12],[450,0.1],[470,0.14],[530,0.15],[560,0.14],[640,0.16],[680,0.18],[720,0.26],[760,0.3],[800,0.26],[840,0.22],[870,0.14],[900,0.08],[930,0],[960,0]],
  [[400,0.23],[420,0.12],[428,0],[440,0.28],[450,0.4],[460,0.2],[470,0],[600,0],[640,0.06],[690,0.1],[740,0.12],[770,0.1],[790,0]],
  [[630,0],[650,0.3],[670,0.5],[700,0.64],[740,0.66],[760,0.56],[790,0.45],[820,0.36],[860,0.3],[900,0.24],[950,0.2],[1000,0.14],[1020,0.2],[1036,0.24],[1050,0],[1060,0.14],[1090,0.16],[1120,0.2],[1145,0.32],[1175,0.4],[1200,0.38],[1230,0.26],[1245,0.26],[1255,0.5],[1270,0.54],[1290,0.56]]
]

// occupancy, [position bp, percent]
var occ400Green = [[199,40.8],[216,42.2],[232,42.2],[249,46.7],[260,46.7],[271,40.8],[298,40.8],[306,36.7],[364,36.7],[369,26.1],[380,28.9],[391,27.8],[400,40.6],[407,30.0],[413,32.2],[429,30.6],[440,24.4],[456,23.9],[462,22.2],[470,23.9],[522,23.9],[533,22.2],[544,19.4],[555,18.9],[571,15.6],[621,15.6],[637,18.9],[643,18.9],[653,15.6],[667,18.9],[697,18.9],[708,21.7],[719,27.8],[728,27.8],[741,22.2],[763,23.9],[783,23.9],[790,27.8],[807,36.7],[820,45.6],[831,47.6],[861,47.6],[872,47.2],[894,45.6],[908,46.1],[918,41.1],[938,40.6],[949,36.7],[958,38.9],[982,38.9],[987,33.3],[995,28.9],[998,33.3],[1020,33.3],[1031,41.1],[1047,41.1],[1058,40.6],[1067,41.1],[1080,37.8],[1124,37.8],[1140,43.3],[1157,43.9],[1173,46.1],[1184,41.7],[1195,31.1],[1206,32.2],[1212,42.2],[1220,43.3],[1231,43.9],[1239,31.1],[1248,42.2],[1261,42.2],[1268,46.7],[1277,56.4],[1288,62.2],[1299,62.7],[1326,62.7],[1334,68.7],[1343,62.7],[1384,62.7],[1395,57.2],[1403,58.0],[1425,58.0],[1439,52.8],[1447,53.1],[1458,57.2],[1474,57.2],[1487,56.4],[1494,56.4]]
var occ400Blue = [[199,35.6],[216,36.7],[227,36.7],[238,33.3],[251,30.0],[292,30.0],[306,32.2],[314,36.7],[369,36.7],[380,32.2],[385,28.9],[393,38.9],[402,26.7],[413,30.6],[429,34.4],[440,40.6],[448,40.8],[459,45.0],[470,40.8],[522,40.8],[531,45.0],[544,45.6],[550,46.7],[571,47.6],[621,47.6],[632,46.9],[648,46.9],[659,47.6],[667,45.6],[675,41.1],[697,40.6],[708,36.7],[719,27.8],[728,27.8],[741,35.6],[752,34.4],[763,30.0],[772,35.6],[783,30.0],[796,24.4],[804,23.9],[812,13.3],[823,10.0],[834,5.0],[861,5.0],[872,7.4],[889,7.8],[896,9.8],[903,7.8],[914,7.8],[922,12.8],[940,13.1],[947,23.3],[954,29.7],[965,27.8],[982,27.8],[987,30.6],[995,26.7],[1020,26.1],[1025,21.1],[1034,12.8],[1042,25.6],[1050,27.2],[1064,23.9],[1080,25.6],[1113,25.6],[1122,32.0],[1135,25.6],[1157,25.6],[1165,21.1],[1173,15.9],[1182,21.7],[1190,28.9],[1200,31.1],[1214,28.9],[1231,25.6],[1242,35.0],[1250,27.8],[1255,22.2],[1266,22.2],[1277,25.6],[1286,21.7],[1293,12.8],[1321,12.8],[1334,9.1],[1343,13.3],[1351,18.9],[1386,18.9],[1403,31.7],[1419,32.0],[1436,37.2],[1443,36.7],[1458,33.1],[1463,33.3],[1476,39.4],[1487,31.7],[1494,31.7]]
var occ400Red = [[199,23.9],[207,23.9],[216,21.1],[227,20.9],[238,21.7],[251,23.9],[260,24.2],[268,29.4],[284,29.7],[298,29.7],[306,36.7],[314,31.1],[320,26.1],[358,26.1],[364,31.1],[374,37.8],[382,40.6],[389,33.3],[396,36.7],[404,34.4],[413,37.8],[424,36.7],[435,35.6],[446,35.6],[459,33.3],[470,35.6],[522,35.6],[535,33.3],[549,35.6],[566,36.7],[621,36.7],[637,35.6],[653,36.7],[664,38.9],[673,40.8],[697,40.8],[710,42.8],[719,45.2],[728,45.2],[741,42.2],[754,42.2],[763,46.4],[774,41.1],[783,46.4],[790,46.4],[804,41.1],[815,47.2],[823,47.6],[861,47.6],[872,46.9],[883,46.7],[894,45.6],[905,46.7],[943,46.7],[951,36.7],[960,33.3],[987,33.3],[998,36.7],[1014,40.6],[1025,40.6],[1031,43.9],[1042,36.7],[1050,33.3],[1060,35.6],[1075,37.8],[1113,37.8],[1124,32.2],[1135,28.9],[1146,31.1],[1165,32.2],[1173,38.3],[1184,35.6],[1195,32.2],[1206,30.0],[1220,31.1],[1231,28.9],[1242,30.0],[1250,34.4],[1257,35.6],[1266,35.6],[1275,23.3],[1283,17.8],[1288,15.8],[1293,25.3],[1321,25.3],[1332,22.2],[1348,22.2],[1354,19.1],[1386,19.1],[1395,21.7],[1403,10.5],[1425,10.2],[1458,10.0],[1468,5.0],[1476,4.2],[1485,12.6],[1494,12.6]]

var occ600Green = [[301,26.6],[306,31.9],[315,30.4],[322,31.6],[331,31.9],[338,30.4],[349,27.7],[360,31.9],[435,31.9],[442,27.7],[451,26.6],[467,26.6],[481,24.3],[488,31.9],[504,31.6],[521,31.9],[531,33.0],[545,35.4],[558,36.8],[762,36.8],[771,36.0],[778,36.6],[800,36.8],[805,27.7],[816,29.3],[826,31.0],[837,31.9],[848,31.6],[859,28.8],[869,27.9],[880,27.7],[891,27.9],[901,26.0],[912,26.3],[923,24.3],[934,18.2],[944,18.8],[955,18.2],[966,16.0],[977,16.0],[987,19.9],[998,24.3],[1009,27.7],[1020,29.3],[1030,29.7],[1062,29.7],[1073,28.8],[1084,26.6],[1095,21.2],[1159,21.2],[1170,18.2],[1180,15.7],[1191,15.7],[1202,18.2],[1213,18.8],[1223,15.7],[1234,15.7],[1245,18.2],[1256,18.8],[1266,21.2],[1352,21.2],[1363,24.3],[1374,26.3],[1397,26.3]]
var occ600Blue = [[301,31.9],[306,28.8],[317,26.6],[327,21.6],[338,24.3],[349,27.7],[360,21.6],[376,21.6],[384,23.2],[392,26.0],[399,21.6],[410,21.6],[419,26.0],[435,26.3],[442,28.8],[451,31.9],[462,31.9],[470,33.8],[481,35.4],[488,33.8],[499,31.9],[515,25.4],[526,25.4],[537,28.6],[547,29.7],[560,26.3],[762,26.3],[773,24.3],[783,26.3],[805,26.3],[816,26.6],[826,28.8],[837,29.9],[848,26.6],[859,27.1],[869,26.6],[880,27.7],[891,28.8],[901,31.0],[912,31.9],[923,29.9],[934,29.3],[944,31.9],[955,29.7],[966,30.4],[977,29.7],[987,31.0],[998,27.9],[1009,29.3],[1020,28.6],[1030,27.7],[1041,28.8],[1052,24.3],[1062,24.3],[1073,26.6],[1084,24.3],[1095,26.3],[1121,26.3],[1132,31.9],[1140,27.7],[1148,31.6],[1159,29.9],[1170,27.9],[1180,27.9],[1191,29.7],[1213,29.7],[1223,27.9],[1234,27.7],[1245,29.3],[1256,29.9],[1266,31.9],[1397,31.9]]
var occ600Red = [[301,42.1],[306,42.1],[315,45.4],[327,47.3],[338,46.8],[349,45.4],[363,47.3],[376,47.4],[384,46.6],[392,42.3],[399,47.4],[410,47.4],[419,42.3],[462,42.3],[472,41.6],[478,39.9],[485,35.4],[494,33.4],[499,33.4],[504,38.8],[513,44.1],[521,43.8],[528,40.4],[537,38.2],[545,36.6],[558,36.8],[762,36.8],[771,40.8],[778,37.7],[789,36.8],[803,36.8],[813,47.4],[821,42.3],[826,40.4],[837,41.6],[848,42.1],[853,43.2],[864,45.2],[880,45.4],[891,46.6],[899,42.3],[912,42.3],[923,46.6],[934,46.8],[942,52.7],[955,52.7],[977,52.9],[987,46.6],[998,45.4],[1007,46.6],[1025,46.6],[1036,40.8],[1046,41.0],[1055,46.6],[1068,46.8],[1079,47.9],[1086,52.3],[1100,53.0],[1118,53.0],[1127,52.7],[1135,47.7],[1143,52.3],[1151,47.4],[1162,53.0],[1175,57.1],[1186,56.8],[1197,52.7],[1213,52.7],[1223,57.1],[1234,57.1],[1243,52.7],[1250,52.1],[1266,47.7],[1352,47.7],[1368,42.3],[1397,42.3]]

var occ800Green = [[398,37.0],[651,37.0],[662,36.7],[670,37.0],[720,37.0],[728,35.9],[758,35.6],[768,32.2],[843,32.2],[851,36.4],[859,37.0],[864,40.7],[896,40.9],[915,42.2],[1018,42.2],[1029,41.1],[1036,42.2],[1215,42.2],[1226,46.4],[1236,46.7],[1252,47.6],[1268,46.7],[1289,46.7]]
var occ800Blue = [[398,26.2],[412,26.2],[428,32.0],[454,32.0],[468,26.2],[617,26.2],[628,31.4],[640,26.2],[649,26.2],[656,29.8],[670,32.0],[715,32.0],[723,36.4],[731,40.9],[752,40.9],[768,42.2],[779,42.0],[787,37.0],[837,37.0],[848,32.0],[864,32.0],[874,29.8],[894,29.8],[901,28.7],[912,22.0],[922,21.1],[1018,21.1],[1029,18.9],[1036,21.1],[1215,21.1],[1226,18.9],[1236,18.9],[1247,21.1],[1257,21.1],[1268,18.9],[1289,18.9]]
var occ800Red = [[398,37.0],[412,37.0],[428,32.0],[454,32.0],[468,37.0],[617,37.0],[628,32.2],[640,37.0],[651,36.4],[670,32.0],[715,32.0],[723,29.8],[731,24.2],[752,24.2],[768,25.9],[779,25.9],[787,32.0],[843,32.0],[862,31.8],[869,29.8],[894,29.8],[912,36.4],[922,37.0],[1018,37.0],[1029,40.9],[1039,37.0],[1215,37.0],[1231,35.3],[1247,32.0],[1257,32.0],[1268,35.6],[1289,35.6]]

var highwayRows = [hw400, hw600, hw800]
var occupancyRows = [
  [occ400Green, occ400Blue, occ400Red],
  [occ600Green, occ600Blue, occ600Red],
  [occ800Green, occ800Blue, occ800Red]
]
var occColors = ["#00a651", "#2e3192", "#ed1c24"]

// ---- layout -----------------------------------------------------------
var svg = d3.select("#chart")
var colX = [175.5, 766]
var rowY = [64, 507, 950]
var panelW = 531, panelH = 398

svg.append("path")
   .attr("d", "M7.5,1368V8.5H1335")
   .attr("fill", "none")
   .attr("stroke", "#808285")
   .attr("stroke-width", 1)

svg.selectAll("text.colhead").data(columnTitles).enter().append("text")
   .attr("class", "colhead")
   .attr("x", function(d, i) { return [431, 1015][i] })
   .attr("y", 44)
   .attr("text-anchor", "middle")
   .attr("font-size", 26)
   .text(function(d) { return d })

svg.selectAll("text.rowlab").data(rowLabels).enter().append("text")
   .attr("class", "rowlab")
   .attr("x", 70)
   .attr("y", function(d, i) { return rowY[i] + 198 })
   .attr("font-size", 26)
   .text(function(d) { return d })

function makeScales(col, row) {
  var left = colX[col], top = rowY[row]
  var x = d3.scaleLinear().domain([0, seqLength]).range([left, left + panelW])
  return { x: x, left: left, top: top }
}

function drawAxis(g, s) {
  var axis = d3.axisBottom(s.x)
               .tickValues(tickLabels)
               .tickFormat(d3.format("d"))
               .tickSize(-20)
               .tickSizeOuter(0)
  var ag = g.append("g")
            .attr("transform", "translate(0," + (s.top + panelH) + ")")
            .attr("color", "#231f20")
            .call(axis)
  ag.select(".domain").remove()
  ag.selectAll(".tick line").attr("stroke-width", 1.1)
  ag.selectAll(".tick text")
    .attr("y", -20)
    .attr("dy", null)
    .attr("x", 1)
    .attr("text-anchor", "start")
    .attr("font-size", 15)
    .attr("font-family", "Liberation Sans, Arial, sans-serif")
}

function drawFrame(g, s, title) {
  g.append("text")
   .attr("x", s.left + 11.5)
   .attr("y", s.top + 29)
   .attr("font-size", 26)
   .text(title)
  g.append("rect")
   .attr("x", s.left).attr("y", s.top)
   .attr("width", panelW).attr("height", panelH)
   .attr("fill", "none")
   .attr("stroke", "#231f20")
   .attr("stroke-width", 1.4)
}

function drawHighway(row) {
  var s = makeScales(0, row)
  var y = d3.scaleLinear().domain([0, 3]).range([s.top + 332, s.top + 66])
  var g = svg.append("g")
  g.selectAll("line.lane").data(laneLevels).enter().append("line")
   .attr("x1", s.x(laneSpan[0])).attr("x2", s.x(laneSpan[1]))
   .attr("y1", function(d) { return y(d) }).attr("y2", function(d) { return y(d) })
   .attr("stroke", "#2e3192")
   .attr("stroke-width", 1.5)
  var line = d3.line().x(function(d) { return s.x(d[0]) }).y(function(d) { return y(d[1]) })
  g.selectAll("path.walk").data(highwayRows[row]).enter().append("path")
   .attr("d", line)
   .attr("fill", "none")
   .attr("stroke", "#111")
   .attr("stroke-width", 1.3)
   .attr("stroke-linejoin", "round")
  drawAxis(g, s)
  drawFrame(g, s, panelTitles[row])
}

function drawOccupancy(row) {
  var s = makeScales(1, row)
  var centre = s.top + 146
  var y = d3.scaleLinear().domain([100 / 3, 100]).range([centre, centre - 200])
  var g = svg.append("g")
  var line = d3.line().x(function(d) { return s.x(d[0]) }).y(function(d) { return y(d[1]) })
  g.selectAll("path.occ").data(occupancyRows[row]).enter().append("path")
   .attr("d", line)
   .attr("fill", "none")
   .attr("stroke", function(d, i) { return occColors[i] })
   .attr("stroke-width", 1.6)
   .attr("stroke-linejoin", "round")
  drawAxis(g, s)
  drawFrame(g, s, panelTitles[row])
}

for (var r = 0; r < 3; r++) { drawHighway(r); drawOccupancy(r) }
</script>
</body>
</html>
